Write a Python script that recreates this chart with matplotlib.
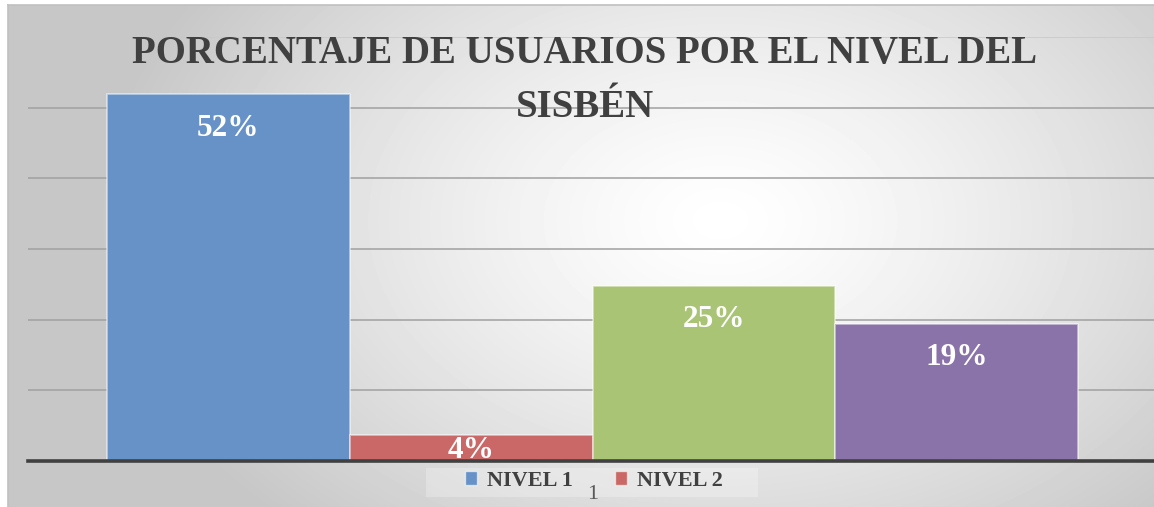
import numpy as np
import matplotlib
matplotlib.use("Agg")
import matplotlib.pyplot as plt
from matplotlib.patches import Rectangle

# data
series = ["NIVEL 1", "NIVEL 2", "NIVEL 3", "NIVEL 4"]
values = [51.9, 3.7, 24.8, 19.4]
colors = ["#6692c8", "#c96866", "#a8c474", "#8a73a9"]
category = "1"
title_lines = ["PORCENTAJE DE USUARIOS POR EL NIVEL DEL", "SISBÉN"]

W, H = 1154, 507
fig = plt.figure(figsize=(W / 100, H / 100), dpi=100)
fig.patch.set_facecolor("white")

# radial gray background of the chart area
bg = fig.add_axes([8 / W, 0, (W - 8) / W, (H - 5) / H], zorder=-2)
yy, xx = np.mgrid[5:H, 8:W]
d = np.sqrt(((xx - 720) / 620.0) ** 2 + ((yy - 220) / 420.0) ** 2)
shade = 1 - 0.22 * np.clip(d, 0, 1) ** 1.3
bg.imshow(shade, cmap="gray", vmin=0, vmax=1, aspect="auto", interpolation="bilinear")
bg.set_xticks([])
bg.set_yticks([])
for s in ["bottom", "right"]:
    bg.spines[s].set_visible(False)
for s in ["top", "left"]:
    bg.spines[s].set_color("#c0c0c0")
    bg.spines[s].set_linewidth(1.2)

# faint legend box (drawn under the category label)
bg.add_patch(Rectangle((425 - 8, 467 - 5), 332, 29, facecolor="white", alpha=0.25,
                       edgecolor="none"))

# plot area
x0, x1 = 28, 1157
ytop, ybot = 37, 461
ax = fig.add_axes([x0 / W, (H - ybot) / H, (x1 - x0) / W, (ybot - ytop) / H])
ax.patch.set_alpha(0)
n = len(values)
pos = np.arange(n) - (n - 1) / 2
ax.set_xlim(-2.325, 2.325)
ax.set_ylim(0, 60)

for yv in range(10, 60, 10):
    ax.axhline(yv, color="#a0a0a0", lw=1.1, zorder=1)
ax.axhline(60, color="#c8c8c8", lw=1.1, zorder=1)

bars = ax.bar(pos, values, width=1.0, color=colors, edgecolor=(1, 1, 1, 0.55),
              linewidth=1.2, zorder=2)

serif = ["Liberation Serif", "DejaVu Serif"]
for b, v in zip(bars, values):
    y = v - 4.8 if v > 10 else 1.55
    ax.text(b.get_x() + b.get_width() / 2, y, f"{round(v)}%", ha="center", va="center",
            color="white", fontsize=22.5, fontweight="bold", family=serif, zorder=3)

for s in ["top", "right", "left"]:
    ax.spines[s].set_visible(False)
ax.spines["bottom"].set_color("#404040")
ax.spines["bottom"].set_linewidth(2.6)
ax.spines["bottom"].set_zorder(4)
ax.set_yticks([])
ax.set_xticks([0], [category])
ax.tick_params(axis="x", length=0, pad=17, labelsize=16, labelcolor="#595959")
for t in ax.get_xticklabels():
    t.set_family(serif)

# title, one text per line (baselines ~63 and ~117 px)
for line, base in zip(title_lines, [63, 117]):
    fig.text(585 / W, 1 - base / H, line, ha="center", va="baseline", fontsize=28,
             fontweight="bold", color="#404040", family=serif)

# legend only shows the first two series, as in the picture
handles = [Rectangle((0, 0), 1, 1, facecolor=c, edgecolor=(1, 1, 1, 0.6)) for c in colors[:2]]
leg = fig.legend(handles, series[:2], loc="center", bbox_to_anchor=(594 / W, 1 - 481 / H),
                 ncol=2, frameon=False, handlelength=0.55, handleheight=0.55,
                 handletextpad=0.45, columnspacing=1.9, borderpad=0.2,
                 prop={"family": serif, "weight": "bold", "size": 16})
leg.set_zorder(-1)
for t in leg.get_texts():
    t.set_color("#404040")

fig.savefig("out.png", dpi=100)
